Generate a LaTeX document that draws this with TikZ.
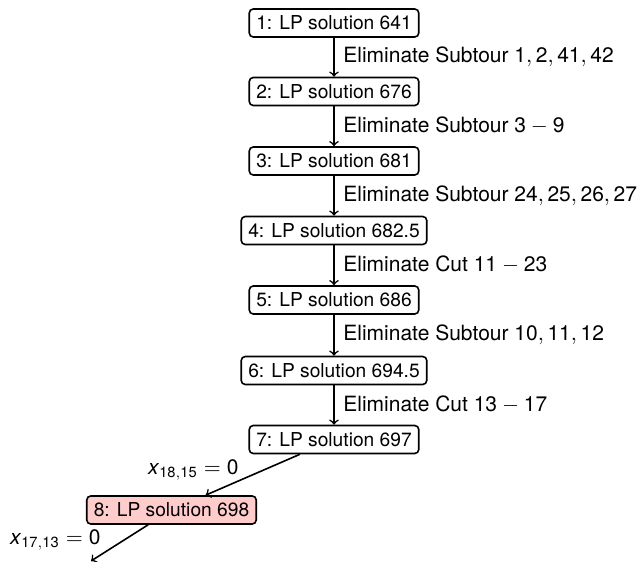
\documentclass[tikz,border=0pt]{standalone}
\usepackage{amsmath}
\usepackage{fontspec}
\setmainfont{TeX Gyre Heros}
\setsansfont{TeX Gyre Heros}
\newcommand\sd[1]{\mathsf{#1}}
\begin{document}
\begin{tikzpicture}[x=0.5pt,y=-0.5pt,
  lpbox/.style={draw,rounded corners=2pt,line width=0.8pt,inner xsep=3.5pt,inner ysep=0pt,minimum height=14pt,font=\fontsize{9.6}{11}\selectfont},
  lbl/.style={anchor=west,inner sep=0pt,font=\fontsize{10.5}{12}\selectfont},
  xlbl/.style={anchor=east,inner sep=0pt,font=\fontsize{10.5}{12}\selectfont},
  conn/.style={->,line width=0.8pt}]
\useasboundingbox (0,0) rectangle (643,562);
\node[lpbox] (n1) at (334,23) {1: LP solution 641};
\node[lpbox] (n2) at (334,91.5) {2: LP solution 676};
\node[lpbox] (n3) at (334,161) {3: LP solution 681};
\node[lpbox] (n4) at (334,230.5) {4: LP solution 682.5};
\node[lpbox] (n5) at (334,300) {5: LP solution 686};
\node[lpbox] (n6) at (334,370.5) {6: LP solution 694.5};
\node[lpbox] (n7) at (334,439.5) {7: LP solution 697};
\node[lpbox,fill=red!20] (n8) at (171.5,510) {8: LP solution 698};
\coordinate (end) at (91,561);
\draw[conn] (n1) -- (n2);
\draw[conn] (n2) -- (n3);
\draw[conn] (n3) -- (n4);
\draw[conn] (n4) -- (n5);
\draw[conn] (n5) -- (n6);
\draw[conn] (n6) -- (n7);
\draw[conn] (n7) -- (n8);
\draw[conn] (n8) -- (end);
\node[lbl] (l1) at (343,56.5) {Eliminate Subtour $\sd{1},\sd{2},\sd{41},\sd{42}$};
\node[lbl] (l2) at (343,126) {Eliminate Subtour $\sd{3}-\sd{9}$};
\node[lbl] (l3) at (343,195.5) {Eliminate Subtour $\sd{24},\sd{25},\sd{26},\sd{27}$};
\node[lbl] (l4) at (343,265) {Eliminate Cut $\sd{11}-\sd{23}$};
\node[lbl] (l5) at (343,335) {Eliminate Subtour $\sd{10},\sd{11},\sd{12}$};
\node[lbl] (l6) at (343,404.5) {Eliminate Cut $\sd{13}-\sd{17}$};
\node[xlbl] (x1) at (239,470) {\textit{x}$_{\sd{18},\sd{15}}=\sd{0}$};
\node[xlbl] (x2) at (101,540) {\textit{x}$_{\sd{17},\sd{13}}=\sd{0}$};
\end{tikzpicture}
\end{document}
